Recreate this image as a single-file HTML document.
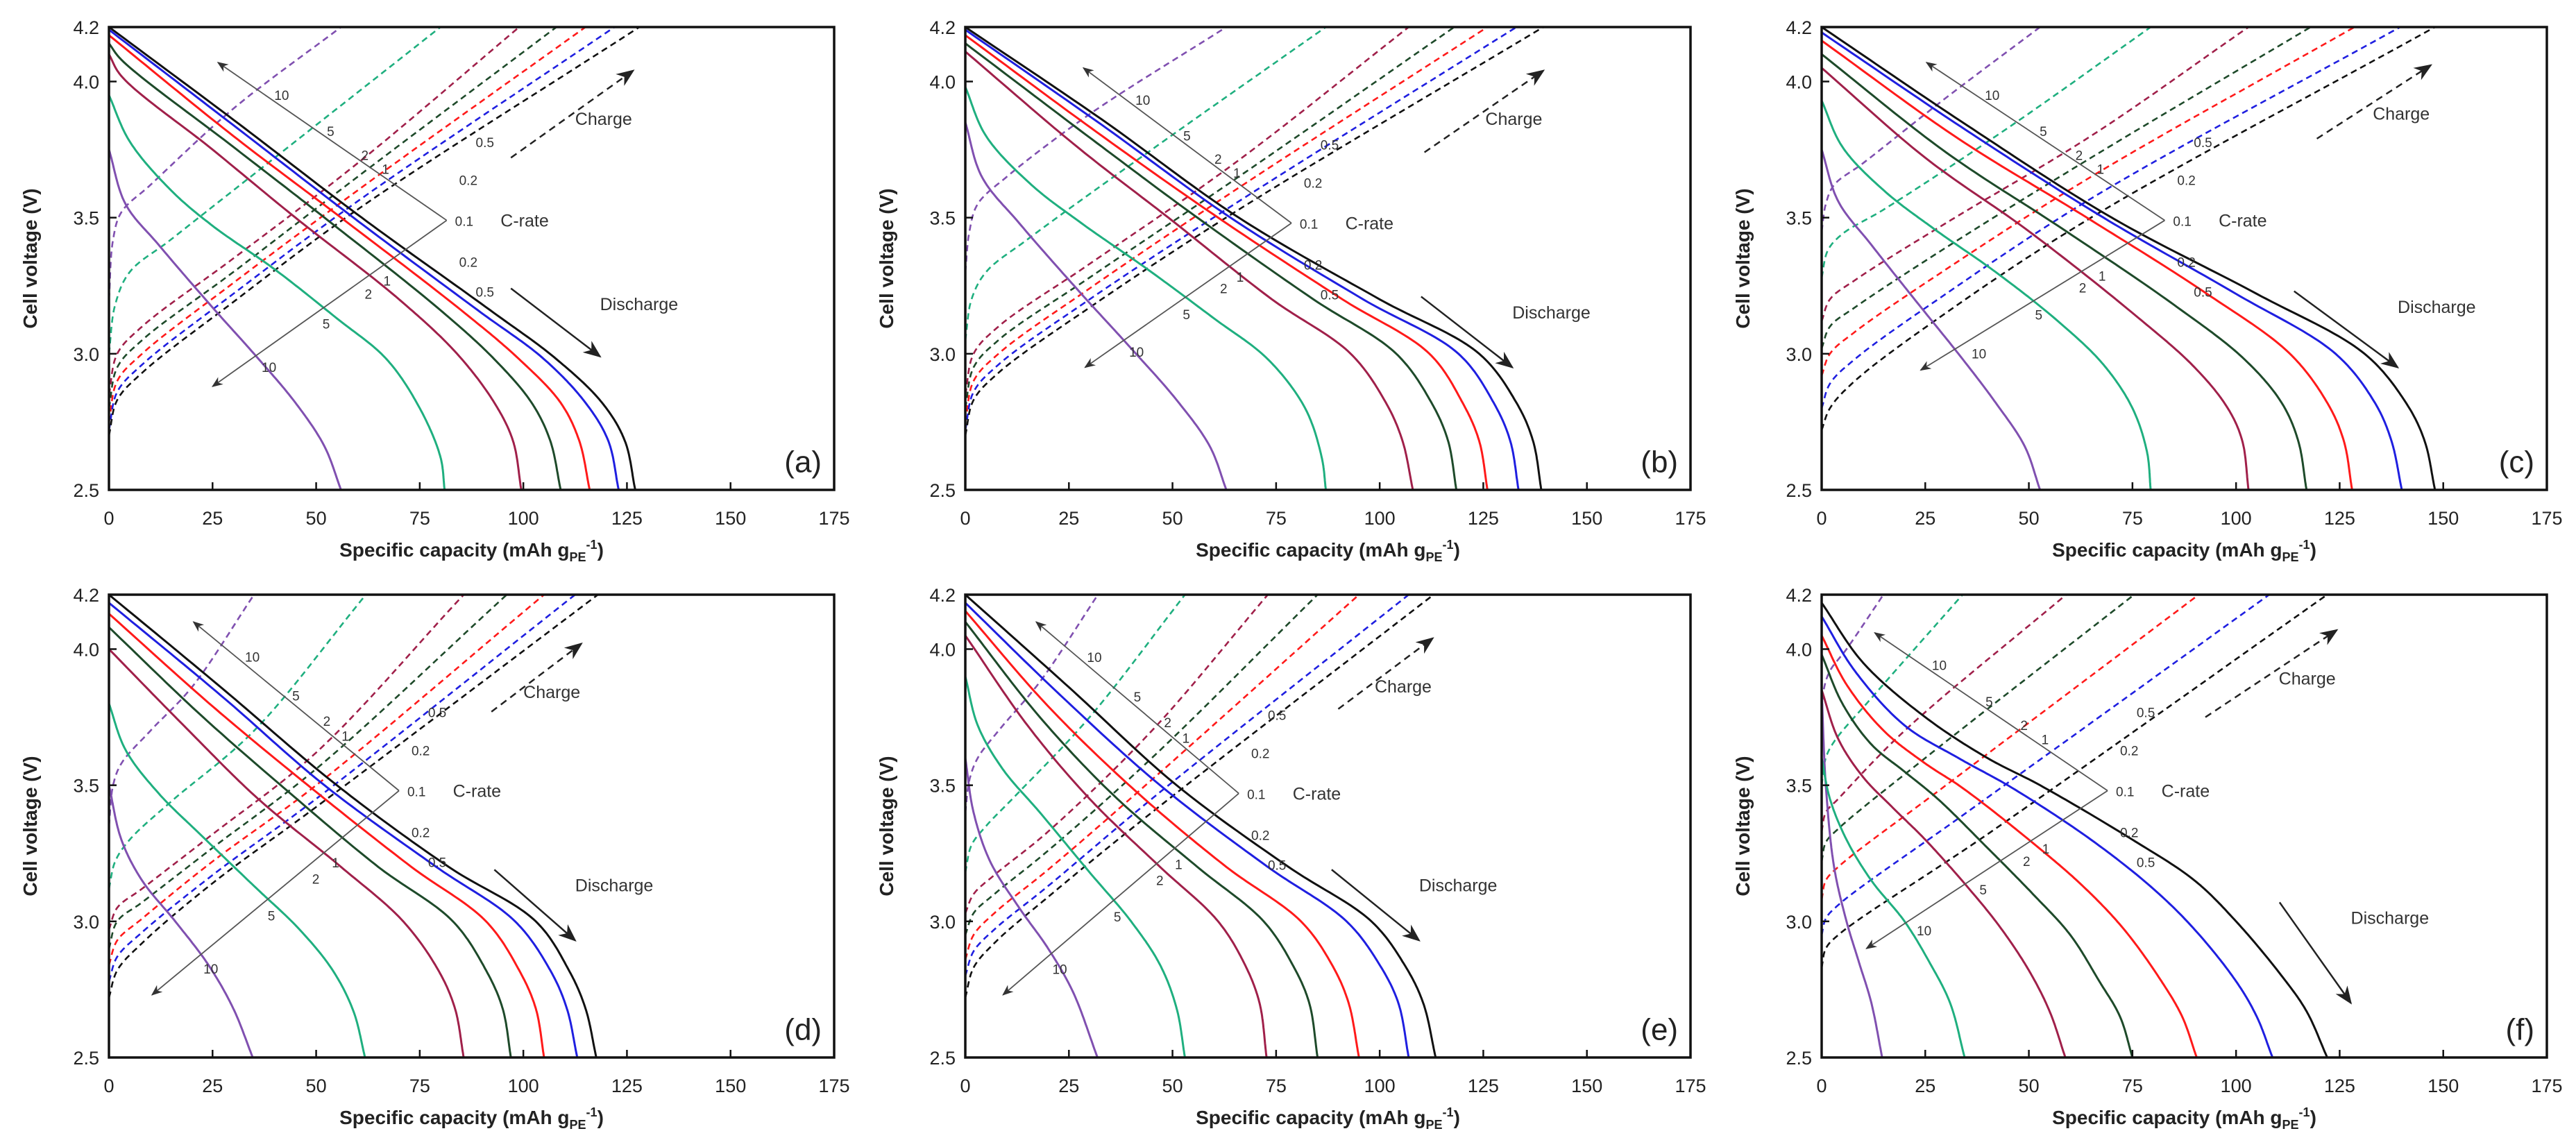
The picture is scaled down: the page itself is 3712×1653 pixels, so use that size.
<!DOCTYPE html>
<html><head><meta charset="utf-8">
<style>
html,body{margin:0;padding:0;background:#fff;}
svg{display:block;font-family:"Liberation Sans",Arial,sans-serif;}
</style></head>
<body>
<svg id="chart" xmlns="http://www.w3.org/2000/svg" width="3712" height="1653" viewBox="0 0 3712 1653"></svg>
<script>
const rates = ["10","5","2","1","0.5","0.2","0.1"];
const colors = ["#8050B0","#1FAF7F","#A0204A","#1E4A2A","#FF1A1A","#1F1FE0","#111111"];
const panelLabels = ["(a)","(b)","(c)","(d)","(e)","(f)"];
const xTicks = [0,25,50,75,100,125,150,175];
const yTicks = [2.5,3.0,3.5,4.0,4.2];
const yTickLabels = ["2.5","3.0","3.5","4.0","4.2"];

const dischargeA = [
 [[0,3.75],[4,3.55],[12,3.40],[25,3.17],[35,3.0],[45,2.82],[52,2.66],[56,2.5]],
 [[0,3.95],[5,3.78],[15,3.6],[25,3.47],[40,3.31],[55,3.13],[67,2.98],[75,2.8],[80,2.62],[81,2.5]],
 [[0,4.1],[3,4.02],[25,3.75],[45,3.5],[70,3.2],[84,3.0],[93,2.82],[97.5,2.68],[99.5,2.5]],
 [[0,4.14],[3,4.08],[30,3.76],[52,3.5],[80,3.16],[93,2.98],[102,2.82],[106.5,2.68],[109,2.5]],
 [[0,4.17],[30,3.80],[56,3.5],[85,3.16],[99,2.98],[109,2.82],[113.5,2.68],[116,2.5]],
 [[0,4.19],[30,3.84],[59,3.5],[89,3.16],[105,2.98],[115,2.82],[120.5,2.68],[123,2.5]],
 [[0,4.2],[30,3.86],[61,3.5],[92,3.16],[108,2.98],[119,2.82],[124.5,2.68],[127,2.5]]];
const chargeA = [
 [[0,3.2],[1,3.42],[3,3.52],[10,3.62],[30,3.9],[56,4.2]],
 [[0,3.0],[1.5,3.18],[5,3.3],[15,3.42],[40,3.72],[80,4.2]],
 [[0,2.85],[2,3.0],[8,3.1],[30,3.35],[60,3.7],[99,4.2]],
 [[0,2.8],[2,2.95],[8,3.05],[30,3.3],[60,3.65],[108,4.2]],
 [[0,2.75],[2,2.9],[8,3.0],[30,3.26],[60,3.6],[115,4.2]],
 [[0,2.72],[2,2.86],[8,2.96],[30,3.22],[60,3.56],[122,4.2]],
 [[0,2.7],[2,2.83],[8,2.93],[30,3.19],[60,3.53],[128,4.2]]];

const dischargeB = [
 [[0,3.85],[4,3.65],[13,3.48],[28,3.22],[40,3.02],[51,2.83],[59,2.66],[63,2.5]],
 [[0,3.98],[5,3.8],[16,3.62],[28,3.48],[44,3.31],[60,3.13],[73,2.98],[82,2.8],[86,2.62],[87,2.5]],
 [[0,4.11],[27,3.76],[49,3.5],[74,3.2],[93,3.0],[101.5,2.82],[105.5,2.68],[108,2.5]],
 [[0,4.14],[33,3.76],[56,3.5],[84,3.2],[104,3.0],[112.5,2.82],[116.5,2.68],[118.5,2.5]],
 [[0,4.17],[33,3.8],[61,3.5],[91,3.2],[112,3.0],[120,2.82],[124,2.68],[126,2.5]],
 [[0,4.19],[33,3.84],[64,3.5],[96,3.2],[119,3.0],[127.5,2.82],[131.5,2.68],[133.5,2.5]],
 [[0,4.2],[33,3.86],[66,3.5],[100,3.2],[124,3.0],[133,2.82],[137,2.68],[139,2.5]]];
const chargeB = [
 [[0,3.3],[1,3.45],[3,3.55],[10,3.65],[30,3.88],[63,4.2]],
 [[0,3.05],[1.5,3.2],[5,3.3],[15,3.42],[45,3.75],[87,4.2]],
 [[0,2.85],[2,3.0],[8,3.1],[30,3.33],[65,3.7],[107,4.2]],
 [[0,2.8],[2,2.95],[8,3.05],[30,3.28],[65,3.64],[118,4.2]],
 [[0,2.75],[2,2.9],[8,3.0],[30,3.24],[65,3.6],[126,4.2]],
 [[0,2.72],[2,2.86],[8,2.96],[30,3.2],[65,3.55],[133,4.2]],
 [[0,2.7],[2,2.83],[8,2.93],[30,3.17],[65,3.52],[139.5,4.2]]];

const dischargeC = [
 [[0,3.75],[4,3.56],[12,3.4],[24,3.17],[33,3.0],[42,2.82],[49,2.66],[52.7,2.5]],
 [[0,3.93],[5,3.76],[15,3.6],[27,3.46],[42,3.3],[57,3.12],[68,2.96],[75,2.8],[78.5,2.64],[79.4,2.5]],
 [[0,4.05],[25,3.72],[50,3.45],[75,3.15],[90,2.95],[98,2.8],[101.5,2.68],[103,2.5]],
 [[0,4.1],[30,3.74],[58,3.46],[85,3.18],[102,2.98],[111,2.82],[115,2.68],[117,2.5]],
 [[0,4.15],[33,3.79],[64,3.5],[93,3.22],[113,3.0],[122,2.82],[126,2.68],[128,2.5]],
 [[0,4.18],[35,3.82],[68,3.5],[100,3.22],[124,3.0],[133.5,2.82],[137.5,2.68],[140,2.5]],
 [[0,4.2],[35,3.84],[70,3.5],[105,3.22],[131,3.0],[141,2.82],[145.5,2.68],[148,2.5]]];
const chargeC = [
 [[0,3.45],[1,3.55],[3,3.62],[10,3.7],[30,3.94],[52.7,4.2]],
 [[0,3.28],[1.5,3.38],[5,3.44],[15,3.53],[45,3.83],[79.4,4.2]],
 [[0,3.12],[2,3.2],[8,3.27],[30,3.48],[65,3.8],[103,4.2]],
 [[0,3.02],[2,3.1],[8,3.17],[30,3.39],[65,3.72],[118,4.2]],
 [[0,2.92],[2,3.0],[8,3.08],[30,3.31],[65,3.65],[128.6,4.2]],
 [[0,2.8],[2,2.89],[8,2.98],[30,3.22],[65,3.57],[139.6,4.2]],
 [[0,2.72],[2,2.8],[8,2.9],[30,3.15],[65,3.5],[148,4.2]]];

const dischargeD = [
 [[0,3.5],[3,3.3],[8,3.15],[16,3.0],[24,2.84],[30,2.68],[34.7,2.5]],
 [[0,3.8],[4,3.63],[12,3.47],[22,3.32],[35,3.13],[46,2.97],[54,2.82],[59,2.67],[61.8,2.5]],
 [[0,4.0],[18,3.72],[36,3.45],[56,3.2],[71,3.0],[79.5,2.82],[83.5,2.68],[85.6,2.5]],
 [[0,4.08],[22,3.76],[43,3.48],[65,3.2],[83,3.0],[91,2.82],[95,2.68],[97,2.5]],
 [[0,4.13],[25,3.79],[48,3.5],[73,3.2],[91,3.0],[99,2.82],[103,2.68],[105,2.5]],
 [[0,4.17],[27,3.83],[52,3.5],[79,3.2],[98,3.0],[106.5,2.82],[110.5,2.68],[113,2.5]],
 [[0,4.2],[27,3.86],[55,3.5],[82,3.2],[103,3.0],[111,2.82],[115,2.68],[117.6,2.5]]];
const chargeD = [
 [[0,3.35],[1,3.5],[3,3.58],[10,3.7],[20,3.86],[35,4.2]],
 [[0,3.12],[1.5,3.22],[5,3.3],[15,3.44],[35,3.7],[62,4.2]],
 [[0,2.97],[2,3.05],[8,3.12],[25,3.32],[50,3.62],[85.6,4.2]],
 [[0,2.9],[2,3.0],[8,3.07],[25,3.27],[50,3.56],[96,4.2]],
 [[0,2.84],[2,2.93],[8,3.01],[25,3.22],[50,3.5],[105,4.2]],
 [[0,2.78],[2,2.87],[8,2.96],[25,3.17],[50,3.45],[112.5,4.2]],
 [[0,2.72],[2,2.82],[8,2.92],[25,3.14],[50,3.42],[118,4.2]]];

const dischargeE = [
 [[0,3.6],[2,3.4],[6,3.22],[13,3.05],[20,2.9],[26,2.74],[31.9,2.5]],
 [[0,3.9],[3,3.72],[9,3.56],[18,3.4],[30,3.18],[40,3.0],[47,2.84],[51,2.68],[53,2.5]],
 [[0,4.05],[15,3.72],[30,3.45],[47,3.2],[61,3.0],[67.5,2.84],[71,2.7],[72.7,2.5]],
 [[0,4.1],[18,3.75],[36,3.46],[56,3.2],[72,3.0],[79,2.84],[83,2.7],[85,2.5]],
 [[0,4.14],[20,3.79],[41,3.48],[63,3.2],[81,3.0],[88.5,2.84],[92.5,2.7],[95,2.5]],
 [[0,4.17],[23,3.83],[47,3.5],[73,3.2],[92,3.0],[100,2.84],[104.5,2.7],[107,2.5]],
 [[0,4.2],[25,3.86],[51,3.5],[78,3.2],[98,3.0],[106,2.84],[110.5,2.7],[113.5,2.5]]];
const chargeE = [
 [[0,3.4],[1,3.52],[3,3.6],[8,3.7],[18,3.88],[32,4.2]],
 [[0,3.18],[1.5,3.28],[5,3.35],[12,3.46],[30,3.75],[53,4.2]],
 [[0,3.03],[2,3.1],[7,3.17],[20,3.33],[45,3.7],[73,4.2]],
 [[0,2.95],[2,3.03],[7,3.1],[20,3.26],[45,3.6],[85,4.2]],
 [[0,2.86],[2,2.95],[7,3.03],[20,3.19],[45,3.52],[95,4.2]],
 [[0,2.8],[2,2.89],[7,2.97],[20,3.13],[45,3.45],[107,4.2]],
 [[0,2.72],[2,2.83],[7,2.92],[20,3.09],[45,3.4],[113,4.2]]];

const dischargeF = [
 [[0,3.85],[1,3.5],[3,3.2],[6,3.0],[9,2.85],[12,2.7],[14.6,2.5]],
 [[0,3.6],[2,3.45],[6,3.3],[12,3.15],[20,3.0],[26,2.85],[31,2.7],[34.5,2.5]],
 [[0,3.85],[4,3.67],[10,3.53],[17,3.42],[25,3.3],[35,3.13],[43,2.98],[50,2.82],[55,2.67],[58.8,2.5]],
 [[0,3.98],[5,3.8],[12,3.65],[20,3.55],[28,3.45],[40,3.27],[51,3.1],[60,2.95],[67,2.78],[72,2.65],[75,2.5]],
 [[0,4.05],[6,3.87],[15,3.7],[25,3.58],[34,3.49],[50,3.3],[63,3.13],[73,2.97],[82,2.78],[87,2.65],[90.5,2.5]],
 [[0,4.12],[8,3.92],[20,3.72],[33,3.6],[46,3.49],[65,3.3],[80,3.12],[90,2.97],[100,2.78],[105,2.65],[108.8,2.5]],
 [[0,4.17],[10,3.95],[25,3.75],[40,3.6],[52.7,3.5],[75,3.3],[90,3.15],[100,3.0],[111,2.8],[117,2.67],[122,2.5]]];
const chargeF = [
 [[0,3.7],[0.5,3.85],[2,3.92],[6,4.0],[14.9,4.2]],
 [[0,3.5],[1,3.6],[3,3.66],[12,3.82],[34,4.2]],
 [[0,3.33],[1,3.4],[4,3.45],[20,3.7],[59,4.2]],
 [[0,3.22],[1,3.29],[4,3.34],[25,3.6],[75.4,4.2]],
 [[0,3.08],[1,3.15],[4,3.2],[30,3.5],[91,4.2]],
 [[0,2.95],[1,3.01],[4,3.06],[35,3.4],[108,4.2]],
 [[0,2.83],[1,2.9],[4,2.95],[40,3.32],[122,4.2]]];

const dischargeSets = [dischargeA,dischargeB,dischargeC,dischargeD,dischargeE,dischargeF];
const chargeSets = [chargeA,chargeB,chargeC,chargeD,chargeE,chargeF];
const crateVertex = [[81.5,3.49],[78.7,3.48],[82.8,3.49],[70,3.48],[66,3.47],[69,3.48]];
const crateUpperEnd = [[26.3,4.07],[28.5,4.05],[25.3,4.07],[20.4,4.1],[17.1,4.1],[12.8,4.06]];
const crateLowerEnd = [[25,2.88],[28.9,2.95],[23.9,2.94],[10.4,2.73],[9.1,2.73],[10.8,2.9]];
const chargeArrowStart = [[97,3.72],[110.8,3.74],[119.5,3.79],[92.3,3.77],[90,3.78],[92.6,3.75]];
const chargeArrowEnd = [[126.5,4.04],[139.5,4.04],[147,4.06],[114,4.02],[112.8,4.04],[124.3,4.07]];
const dischargeArrowStart = [[97,3.24],[110,3.21],[114,3.23],[93,3.19],[88.4,3.19],[110.5,3.07]];
const dischargeArrowEnd = [[118.5,2.99],[132,2.95],[139,2.95],[112.5,2.93],[109.5,2.93],[127.7,2.7]];

const NS="http://www.w3.org/2000/svg";
const svg=document.getElementById('chart');
const lefts=[157,1391,2625], tops=[39,857], W=1045, H=667;
const QMAX=175, VMIN=2.5, VMAX=4.2;

function el(tag,attrs,parent){const e=document.createElementNS(NS,tag);for(const k in attrs)e.setAttribute(k,attrs[k]);(parent||svg).appendChild(e);return e;}

const defs=el('defs',{});
const mk=el('marker',{id:'ah',viewBox:'0 0 10 10',refX:'9',refY:'5',markerWidth:'26',markerHeight:'26',orient:'auto',markerUnits:'userSpaceOnUse'},defs);
el('path',{d:'M0,1 L10,5 L0,9 L3,5 z',fill:'#222'},mk);
const mk2=el('marker',{id:'ahs',viewBox:'0 0 10 10',refX:'9',refY:'5',markerWidth:'16',markerHeight:'16',orient:'auto',markerUnits:'userSpaceOnUse'},defs);
el('path',{d:'M0,1 L10,5 L0,9 L3,5 z',fill:'#333'},mk2);

// centripetal Catmull-Rom through pixel points
function smoothPath(pts,X,Y){
  const P=pts.map(p=>[X(p[0]),Y(p[1])]);
  const n=P.length;
  const ext=[[2*P[0][0]-P[1][0],2*P[0][1]-P[1][1]],...P,[2*P[n-1][0]-P[n-2][0],2*P[n-1][1]-P[n-2][1]]];
  let s='M'+P[0][0].toFixed(1)+','+P[0][1].toFixed(1);
  const td=(a,b)=>Math.max(1e-4,Math.pow(Math.hypot(b[0]-a[0],b[1]-a[1]),0.5));
  for(let i=1;i<ext.length-2;i++){
    const p0=ext[i-1],p1=ext[i],p2=ext[i+1],p3=ext[i+2];
    const t0=0,t1=t0+td(p0,p1),t2=t1+td(p1,p2),t3=t2+td(p2,p3);
    for(let k=1;k<=24;k++){
      const t=t1+(t2-t1)*k/24;
      const pt=[0,1].map(j=>{
        const A1=(t1-t)/(t1-t0)*p0[j]+(t-t0)/(t1-t0)*p1[j];
        const A2=(t2-t)/(t2-t1)*p1[j]+(t-t1)/(t2-t1)*p2[j];
        const A3=(t3-t)/(t3-t2)*p2[j]+(t-t2)/(t3-t2)*p3[j];
        const B1=(t2-t)/(t2-t0)*A1+(t-t0)/(t2-t0)*A2;
        const B2=(t3-t)/(t3-t1)*A2+(t-t1)/(t3-t1)*A3;
        return (t2-t)/(t2-t1)*B1+(t-t1)/(t2-t1)*B2;
      });
      s+=' L'+pt[0].toFixed(1)+','+pt[1].toFixed(1);
    }
  }
  return s;
}

for(let p=0;p<6;p++){
  const L=lefts[p%3], T=tops[Math.floor(p/3)];
  const X=q=>L+q/QMAX*W, Y=v=>T+(VMAX-v)/(VMAX-VMIN)*H;
  const g=el('g',{});
  
  
  const clipId='clip'+p;
  const cp=el('clipPath',{id:clipId},defs); el('rect',{x:L,y:T,width:W,height:H},cp);
  const curves=el('g',{'clip-path':'url(#'+clipId+')'},g);
  
  
  chargeSets[p].forEach((pts,i)=>{
    const path=el('path',{d:smoothPath(pts,X,Y),fill:'none',stroke:colors[i],'stroke-width':2.6,'stroke-dasharray':'9,6'},curves);
    
    
  });
  dischargeSets[p].forEach((pts,i)=>{
    const path=el('path',{d:smoothPath(pts,X,Y),fill:'none',stroke:colors[i],'stroke-width':3},curves);
    
    
  });
  const fr=el('rect',{x:L,y:T,width:W,height:H,fill:'none',stroke:'#111','stroke-width':3.5},g);
  
  
  xTicks.forEach(t=>{
    const ln=el('line',{x1:X(t),x2:X(t),y1:T+H,y2:T+H-11,stroke:'#111','stroke-width':2.5},g);
    
    
    const tx=el('text',{x:X(t),y:T+H+50,'text-anchor':'middle','font-size':27,fill:'#222'},g);
    tx.textContent=t;
    
    
  });
  yTicks.forEach((t,i)=>{
    const ln=el('line',{x1:L,x2:L+11,y1:Y(t),y2:Y(t),stroke:'#111','stroke-width':2.5},g);
    
    
    const tx=el('text',{x:L-14,y:Y(t)+10,'text-anchor':'end','font-size':27,fill:'#222'},g);
    tx.textContent=yTickLabels[i];
    
    
  });
  const xt=el('text',{x:L+W/2,y:T+H+96,'text-anchor':'middle','font-size':28,'font-weight':'bold',fill:'#222'},g);
  
  
  xt.appendChild(document.createTextNode('Specific capacity (mAh g'));
  const s1=el('tspan',{'font-size':18,dy:7},xt); s1.textContent='PE';
  const s2=el('tspan',{'font-size':18,dy:-18},xt); s2.textContent='-1';
  const s3=el('tspan',{'font-size':28,dy:11},xt); s3.textContent=')';
  const yt=el('text',{x:0,y:0,'text-anchor':'middle','font-size':28,'font-weight':'bold',fill:'#222',transform:'translate('+(L-104)+','+(T+H/2)+') rotate(-90)'},g);
  yt.textContent='Cell voltage (V)';
  
  
  const pl=el('text',{x:X(172),y:Y(2.565),'text-anchor':'end','font-size':44,fill:'#222'},g);
  pl.textContent=panelLabels[p];
  
  
  const vx=crateVertex[p], ue=crateUpperEnd[p], le=crateLowerEnd[p];
  const ul=el('line',{x1:X(vx[0]),y1:Y(vx[1]),x2:X(ue[0]),y2:Y(ue[1]),stroke:'#555','stroke-width':1.8,'marker-end':'url(#ahs)'},g);
  
  
  const ll=el('line',{x1:X(vx[0]),y1:Y(vx[1]),x2:X(le[0]),y2:Y(le[1]),stroke:'#555','stroke-width':1.8,'marker-end':'url(#ahs)'},g);
  
  
  const upT=[0.79,0.56,0.41,0.32], upLab=["10","5","2","1"];
  upLab.forEach((lab,i)=>{
    const q=vx[0]+(ue[0]-vx[0])*upT[i], v=vx[1]+(ue[1]-vx[1])*upT[i];
    const tx=el('text',{x:X(q)+12,y:Y(v)+6,'font-size':19,fill:'#333'},g);
    tx.textContent=lab;
    
    
  });
  const loT=[0.82,0.56,0.38,0.3], loLab=["10","5","2","1"];
  loLab.forEach((lab,i)=>{
    const q=vx[0]+(le[0]-vx[0])*loT[i], v=vx[1]+(le[1]-vx[1])*loT[i];
    const tx=el('text',{x:X(q)+10,y:Y(v)+22,'font-size':19,fill:'#333'},g);
    tx.textContent=lab;
    
    
  });
  [["0.5",0.29,6],["0.2",0.15,2],["0.1",0,1],["0.2",-0.15,2],["0.5",-0.26,6]].forEach(a=>{
    const v=vx[1]+a[1]; const q=vx[0]+a[2];
    const tx=el('text',{x:X(q)+6,y:Y(v)+8,'font-size':19,fill:'#333'},g);
    tx.textContent=a[0];
    
    
  });
  const cr=el('text',{x:X(vx[0]+13),y:Y(vx[1])+9,'font-size':25,fill:'#333'},g);
  cr.textContent='C-rate';
  
  
  const cs=chargeArrowStart[p], ce=chargeArrowEnd[p];
  const ca=el('line',{x1:X(cs[0]),y1:Y(cs[1]),x2:X(ce[0]),y2:Y(ce[1]),stroke:'#222','stroke-width':2.5,'stroke-dasharray':'10,7','marker-end':'url(#ah)'},g);
  
  
  const ct=el('text',{x:X(ce[0]-14),y:Y(ce[1]-0.2),'font-size':25,fill:'#333'},g);
  ct.textContent='Charge';
  
  
  const ds=dischargeArrowStart[p], de=dischargeArrowEnd[p];
  const da=el('line',{x1:X(ds[0]),y1:Y(ds[1]),x2:X(de[0]),y2:Y(de[1]),stroke:'#222','stroke-width':2.5,'marker-end':'url(#ah)'},g);
  
  
  const dt=el('text',{x:X(de[0]),y:Y(ds[1]-0.08),'font-size':25,fill:'#333'},g);
  dt.textContent='Discharge';
  
  
}
</script>
</body></html>
